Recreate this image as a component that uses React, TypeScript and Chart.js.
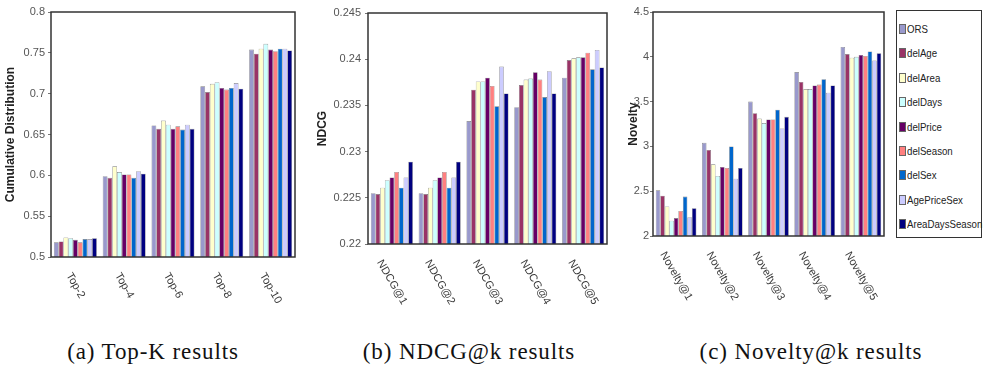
import React, { useEffect, useRef } from "react";
import { Chart, registerables } from "chart.js";

Chart.register(...registerables);

// ---------- DATA ----------
const seriesNames = ["ORS", "delAge", "delArea", "delDays", "delPrice", "delSeason", "delSex", "AgePriceSex", "AreaDaysSeason"];
const seriesColors = ["#9999cc", "#993366", "#ffffcc", "#ccffff", "#660066", "#ff8080", "#0066cc", "#ccccff", "#000080"];

const topKLabels = ["Top-2", "Top-4", "Top-6", "Top-8", "Top-10"];
const ndcgLabels = ["NDCG@1", "NDCG@2", "NDCG@3", "NDCG@4", "NDCG@5"];
const noveltyLabels = ["Novelty@1", "Novelty@2", "Novelty@3", "Novelty@4", "Novelty@5"];

// rows follow seriesNames order
const topKValues = [
  [0.518, 0.599, 0.661, 0.709, 0.754],
  [0.519, 0.597, 0.657, 0.702, 0.749],
  [0.524, 0.611, 0.667, 0.712, 0.755],
  [0.523, 0.604, 0.662, 0.714, 0.761],
  [0.521, 0.601, 0.657, 0.707, 0.754],
  [0.518, 0.601, 0.66, 0.705, 0.752],
  [0.522, 0.597, 0.656, 0.707, 0.755],
  [0.522, 0.605, 0.662, 0.713, 0.755],
  [0.523, 0.602, 0.657, 0.706, 0.753],
];
const ndcgValues = [
  [0.2255, 0.2255, 0.2333, 0.2348, 0.238],
  [0.2254, 0.2254, 0.2367, 0.2372, 0.2399],
  [0.2261, 0.2261, 0.2376, 0.2378, 0.2401],
  [0.2269, 0.2269, 0.2376, 0.2379, 0.2402],
  [0.2272, 0.2272, 0.238, 0.2386, 0.2402],
  [0.2278, 0.2278, 0.2371, 0.2378, 0.2407],
  [0.2261, 0.2261, 0.2349, 0.2359, 0.2389],
  [0.2272, 0.2272, 0.2392, 0.2387, 0.241],
  [0.2289, 0.2289, 0.2363, 0.2363, 0.2391],
];
const noveltyValues = [
  [2.51, 3.04, 3.5, 3.83, 4.11],
  [2.45, 2.96, 3.37, 3.72, 4.03],
  [2.33, 2.8, 3.31, 3.64, 3.99],
  [2.17, 2.67, 3.26, 3.64, 4.0],
  [2.2, 2.77, 3.3, 3.68, 4.02],
  [2.28, 2.76, 3.3, 3.69, 4.01],
  [2.44, 3.0, 3.41, 3.75, 4.06],
  [2.21, 2.64, 3.2, 3.6, 3.96],
  [2.31, 2.76, 3.33, 3.68, 4.04],
];

const topKTicks = [0.5, 0.55, 0.6, 0.65, 0.7, 0.75, 0.8];
const topKTickLabels = ["0.5", "0.55", "0.6", "0.65", "0.7", "0.75", "0.8"];
const ndcgTicks = [0.22, 0.225, 0.23, 0.235, 0.24, 0.245];
const ndcgTickLabels = ["0.22", "0.225", "0.23", "0.235", "0.24", "0.245"];
const noveltyTicks = [2, 2.5, 3, 3.5, 4, 4.5];
const noveltyTickLabels = ["2", "2.5", "3", "3.5", "4", "4.5"];

const captions = ["(a) Top-K results", "(b) NDCG@k results", "(c) Novelty@k results"];

// ---------- STYLE ----------
const SANS = '"Liberation Sans", Arial, sans-serif';

const frameAndLabels = {
  id: "frameAndLabels",
  afterDatasetsDraw(chart: any) {
    const { ctx, chartArea: a } = chart;
    ctx.save();
    ctx.strokeStyle = "#333";
    ctx.lineWidth = 1.5;
    ctx.strokeRect(a.left, a.top, a.right - a.left, a.bottom - a.top);
    const xs = chart.scales.x;
    const fs = 11;
    ctx.font = `${fs}px ${SANS}`;
    ctx.fillStyle = "#3a3a3a";
    ctx.textAlign = "left";
    ctx.textBaseline = "middle";
    const th = Math.PI / 3;
    (chart.data.labels as string[]).forEach((lab, i) => {
      const cx = xs.getPixelForValue(i);
      const w = ctx.measureText(lab).width;
      const px = cx - (w * Math.cos(th)) / 2;
      const py = a.bottom + 14 + (fs / 2) * Math.cos(th);
      ctx.save();
      ctx.translate(px, py);
      ctx.rotate(th);
      ctx.fillText(lab, 0, 0);
      ctx.restore();
    });
    ctx.restore();
  },
};

type PanelProps = {
  labels: string[];
  values: number[][];
  ticks: number[];
  tickLabels: string[];
  title: string;
  left: number;
  width: number;
  height: number;
  padL: number;
  padT: number;
  padR: number;
  yWidth: number;
  xHeight: number;
  tickPad: number;
};

function Panel(p: PanelProps) {
  const ref = useRef<HTMLCanvasElement | null>(null);
  useEffect(() => {
    if (!ref.current) return;
    const chart = new Chart(ref.current, {
      type: "bar",
      data: {
        labels: p.labels,
        datasets: seriesNames.map((name, i) => ({
          label: name,
          data: p.values[i],
          backgroundColor: seriesColors[i],
          borderColor: "rgba(70,70,70,0.7)",
          borderWidth: 0.6,
          categoryPercentage: 0.88,
          barPercentage: 1.0,
        })),
      },
      options: {
        responsive: false,
        animation: false,
        devicePixelRatio: 1,
        layout: { padding: { left: p.padL, top: p.padT, right: p.padR, bottom: 0 } },
        plugins: { legend: { display: false }, tooltip: { enabled: false } },
        scales: {
          x: {
            type: "category",
            grid: { display: false },
            border: { display: false },
            ticks: { display: false },
            afterFit: (s: any) => {
              s.height = p.xHeight;
            },
          },
          y: {
            min: p.ticks[0],
            max: p.ticks[p.ticks.length - 1],
            beginAtZero: false,
            afterBuildTicks: (s: any) => {
              s.ticks = p.ticks.map((v) => ({ value: v }));
            },
            afterFit: (s: any) => {
              s.width = p.yWidth;
            },
            border: { display: false },
            grid: { drawOnChartArea: false, drawTicks: true, tickLength: 3, color: "#777" },
            ticks: {
              padding: p.tickPad,
              color: "#555",
              font: { family: SANS, size: 11 },
              callback: (_v: any, i: number) => p.tickLabels[i],
            },
            title: {
              display: true,
              text: p.title,
              color: "#222",
              padding: 0,
              font: { family: SANS, size: 12, weight: "bold" },
            },
          },
        },
      },
      plugins: [frameAndLabels],
    } as any);
    return () => chart.destroy();
  }, []);
  return (
    <canvas
      ref={ref}
      width={p.width}
      height={p.height}
      style={{ position: "absolute", left: p.left, top: 0, width: p.width, height: p.height }}
    />
  );
}

function Legend() {
  return (
    <div
      style={{
        position: "absolute",
        left: 896,
        top: 10,
        width: 86,
        height: 228,
        border: "1.5px solid #333",
        boxSizing: "border-box",
        background: "#fff",
      }}
    >
      {seriesNames.map((n, i) => (
        <div
          key={n}
          style={{
            position: "absolute",
            left: 2,
            top: 10 + i * 24.4,
            height: 16,
            display: "flex",
            alignItems: "center",
            whiteSpace: "nowrap",
          }}
        >
          <span
            style={{
              display: "inline-block",
              width: 5,
              height: 8,
              background: seriesColors[i],
              border: "0.5px solid #666",
              marginRight: 1,
            }}
          />
          <span
            style={{
              display: "inline-block",
              font: `11px ${SANS}`,
              color: "#222",
              transform: "scaleX(0.88)",
              transformOrigin: "left center",
            }}
          >
            {n}
          </span>
        </div>
      ))}
    </div>
  );
}

const captionCenters = [153, 469, 811];

export default function App() {
  return (
    <div style={{ position: "absolute", left: 0, top: 0, width: 983, height: 368, background: "#fff", overflow: "hidden" }}>
      <Panel labels={topKLabels} values={topKValues} ticks={topKTicks} tickLabels={topKTickLabels}
        title="Cumulative Distribution" left={0} width={300} height={320}
        padL={3} padT={12} padR={5} yWidth={48} xHeight={63} tickPad={3} />
      <Panel labels={ndcgLabels} values={ndcgValues} ticks={ndcgTicks} tickLabels={ndcgTickLabels}
        title="NDCG" left={300} width={310} height={320}
        padL={15} padT={13} padR={3} yWidth={53} xHeight={76} tickPad={4} />
      <Panel labels={noveltyLabels} values={noveltyValues} ticks={noveltyTicks} tickLabels={noveltyTickLabels}
        title="Novelty" left={615} width={275} height={320}
        padL={11} padT={12} padR={6} yWidth={27} xHeight={84} tickPad={1} />
      <Legend />
      {captions.map((c, i) => (
        <div
          key={c}
          style={{
            position: "absolute",
            left: captionCenters[i] - 150,
            width: 300,
            top: 338,
            textAlign: "center",
            font: '23px "Liberation Serif", "DejaVu Serif", serif',
            letterSpacing: "0.9px",
            lineHeight: "27px",
            color: "#111",
          }}
        >
          {c}
        </div>
      ))}
    </div>
  );
}
